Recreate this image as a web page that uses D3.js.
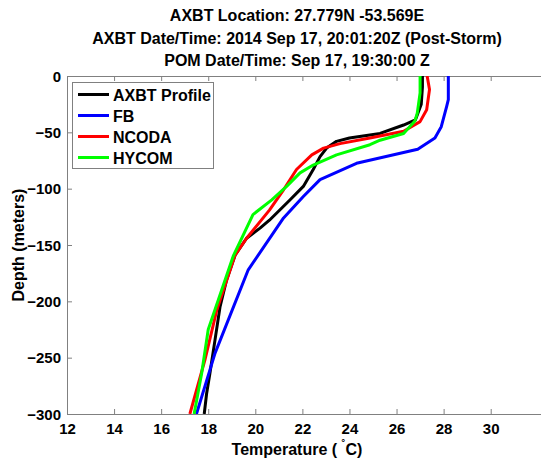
<!DOCTYPE html>
<html>
<head>
<meta charset="utf-8">
<script src="https://cdn.jsdelivr.net/npm/d3@7"></script>
<style>
  html, body { margin: 0; padding: 0; background: #fff; }
  svg { display: block; font-family: "Liberation Sans", Arial, Helvetica, sans-serif; }
</style>
</head>
<body>
<svg id="chart" width="541" height="462"></svg>
<script>
// Temperature profiles (deg C) against depth (m)
const axbtDepth = [0, -10, -25, -39, -43.5, -51, -55, -58, -64, -71.6, -83, -98, -110, -128, -135, -144, -159, -181, -205, -234, -264, -282, -300];
const axbtTemp  = [27.1, 27.1, 27.05, 26.8, 26.3, 25.3, 24.0, 23.45, 23.03, 22.75, 22.46, 22.04, 21.47, 20.6, 20.2, 19.63, 19.14, 18.78, 18.5, 18.29, 18.07, 17.93, 17.83];

const fbDepth = [0, -21, -27, -45, -55, -65, -77.5, -92, -107, -126, -172, -246, -300];
const fbTemp  = [28.2, 28.2, 28.13, 27.9, 27.63, 26.9, 24.3, 22.75, 22.04, 21.2, 19.7, 18.29, 17.5];

const ncodaDepth = [0, -12, -30, -40.5, -49, -55, -60, -64, -70, -83, -101, -119, -144, -159, -208, -252, -300];
const ncodaTemp  = [27.3, 27.4, 27.28, 27.0, 26.3, 24.87, 23.6, 22.9, 22.4, 21.75, 21.2, 20.6, 19.63, 19.14, 18.36, 17.86, 17.22];

const hycomDepth = [0, -15, -33, -40, -51, -57, -61, -70, -79, -86, -98, -110, -123, -160, -225, -264, -300];
const hycomTemp  = [27.0, 27.0, 26.88, 26.78, 26.3, 25.3, 24.87, 23.45, 22.46, 21.9, 21.33, 20.7, 19.9, 19.06, 18.0, 17.72, 17.4];

const seriesNames  = ["AXBT Profile", "FB", "NCODA", "HYCOM"];
const seriesColors = ["#000000", "#0000ff", "#ff0000", "#00ff00"];

const xTicks = [12, 14, 16, 18, 20, 22, 24, 26, 28, 30];
const yTicks = [0, -50, -100, -150, -200, -250, -300];

const titleLines = [
  "AXBT Location: 27.779N -53.569E",
  "AXBT Date/Time: 2014 Sep 17, 20:01:20Z (Post-Storm)",
  "POM Date/Time: Sep 17, 19:30:00 Z"
];

const series = [
  { depth: axbtDepth, temp: axbtTemp },
  { depth: fbDepth, temp: fbTemp },
  { depth: ncodaDepth, temp: ncodaTemp },
  { depth: hycomDepth, temp: hycomTemp }
].map((s, i) => ({
  name: seriesNames[i],
  color: seriesColors[i],
  points: s.depth.map((d, j) => ({ d, t: s.temp[j] }))
}));

const svg = d3.select("#chart");
const W = 541;
const plotLeft = 67, plotTop = 76, plotBottom = 414;

const x = d3.scaleLinear().domain([12, 30]).range([plotLeft, 490.7]);
const y = d3.scaleLinear().domain([0, -300]).range([plotTop, plotBottom]);
const axisColor = "#808080";
const tickLen = 5;

// Titles
const title = svg.append("g").attr("font-weight", "bold").attr("font-size", 16).attr("text-anchor", "middle");
titleLines.forEach((t, i) => {
  title.append("text").attr("x", 297).attr("y", 21 + i * 22.5).text(t);
});

// Clip for plot lines
svg.append("defs").append("clipPath").attr("id", "plotclip")
  .append("rect").attr("x", plotLeft).attr("y", plotTop).attr("width", W - plotLeft).attr("height", plotBottom - plotTop);

// Axes with inward ticks
const xAxisB = svg.append("g").attr("transform", `translate(0,${plotBottom})`)
  .call(d3.axisBottom(x).tickValues(xTicks).tickSize(-tickLen).tickPadding(9).tickFormat(d3.format("d")));
const xAxisT = svg.append("g").attr("transform", `translate(0,${plotTop})`)
  .call(d3.axisTop(x).tickValues(xTicks).tickSize(-tickLen).tickFormat(""));
const yAxisL = svg.append("g").attr("transform", `translate(${plotLeft},0)`)
  .call(d3.axisLeft(y).tickValues(yTicks).tickSize(-tickLen).tickPadding(6).tickFormat(d3.format("d")));

[xAxisB, xAxisT, yAxisL].forEach(g => {
  g.select(".domain").remove();
  g.selectAll(".tick line").attr("stroke", axisColor);
  g.selectAll(".tick text").attr("font-size", 15).attr("font-weight", "bold")
    .attr("font-family", "Liberation Sans, Arial, sans-serif").attr("fill", "#000");
});
yAxisL.selectAll(".tick text").attr("dy", "0.35em");

// Axis frame lines (the box runs off the right edge)
svg.append("line").attr("x1", plotLeft).attr("x2", W).attr("y1", plotBottom + 0.5).attr("y2", plotBottom + 0.5).attr("stroke", axisColor);
svg.append("line").attr("x1", plotLeft).attr("x2", W).attr("y1", plotTop + 0.5).attr("y2", plotTop + 0.5).attr("stroke", axisColor);
svg.append("line").attr("x1", plotLeft + 0.5).attr("x2", plotLeft + 0.5).attr("y1", plotTop).attr("y2", plotBottom + 1).attr("stroke", axisColor);

// Profiles
const line = d3.line().x(p => x(p.t)).y(p => y(p.d));
svg.append("g").attr("clip-path", "url(#plotclip)")
  .selectAll("path").data(series).join("path")
  .attr("d", s => line(s.points))
  .attr("fill", "none")
  .attr("stroke", s => s.color)
  .attr("stroke-width", 3)
  .attr("stroke-linejoin", "round");

// Axis titles
const xl = svg.append("text").attr("x", 297).attr("y", 455).attr("text-anchor", "middle")
  .attr("font-size", 16).attr("font-weight", "bold");
xl.append("tspan").text("Temperature ( ");
xl.append("tspan").attr("font-size", 12).attr("dy", -6).text("\u02DA");
xl.append("tspan").attr("dy", 6).text("C)");

svg.append("text").attr("transform", "translate(24,245) rotate(-90)").attr("text-anchor", "middle")
  .attr("font-size", 16).attr("font-weight", "bold").text("Depth (meters)");

// Legend
const lg = svg.append("g");
lg.append("rect").attr("x", 72.5).attr("y", 82.5).attr("width", 141).attr("height", 86)
  .attr("fill", "#fff").attr("stroke", axisColor);
series.forEach((s, i) => {
  const ly = 94.5 + i * 21;
  lg.append("line").attr("x1", 78).attr("x2", 109).attr("y1", ly).attr("y2", ly)
    .attr("stroke", s.color).attr("stroke-width", 3);
  lg.append("text").attr("x", 113).attr("y", ly + 6).attr("font-size", 16).attr("font-weight", "bold").text(s.name);
});
</script>
</body>
</html>
